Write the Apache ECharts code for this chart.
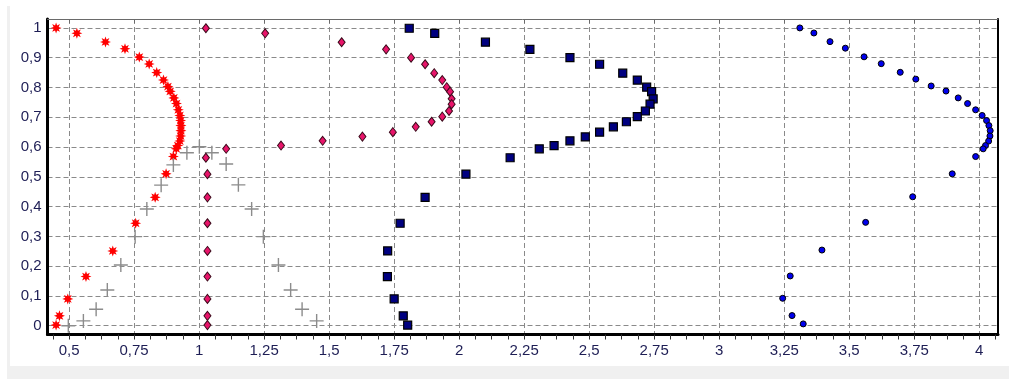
<!DOCTYPE html>
<html>
<head>
<meta charset="utf-8">
<script src="https://cdn.jsdelivr.net/npm/echarts@6/dist/echarts.min.js"></script>
<style>
  html, body { margin: 0; padding: 0; background: #fff; }
  #chart { width: 1009px; height: 379px; }
</style>
</head>
<body>
<div id="chart"></div>
<script>
// tick labels
var xTicks = [0.5, 0.75, 1, 1.25, 1.5, 1.75, 2, 2.25, 2.5, 2.75, 3, 3.25, 3.5, 3.75, 4];
var yTicks = [0, 0.1, 0.2, 0.3, 0.4, 0.5, 0.6, 0.7, 0.8, 0.9, 1];

// red asterisks
var redX = [0.45, 0.53, 0.64, 0.715, 0.77, 0.808, 0.837, 0.863, 0.88, 0.889, 0.903, 0.913, 0.92, 0.926, 0.929,
  0.93, 0.93, 0.929, 0.926, 0.918, 0.912, 0.901, 0.873, 0.831, 0.756, 0.668, 0.565, 0.495, 0.463, 0.45];
var redY = [1.0, 0.982, 0.953, 0.93, 0.902, 0.879, 0.85, 0.825, 0.803, 0.787, 0.765, 0.746, 0.725, 0.706, 0.689,
  0.672, 0.655, 0.637, 0.62, 0.605, 0.594, 0.568, 0.51, 0.431, 0.344, 0.251, 0.165, 0.09, 0.033, 0.002];

// grey crosses
var greyX = [0.497, 0.555, 0.604, 0.647, 0.699, 0.754, 0.799, 0.854, 0.901, 0.953, 1.001,
  1.049, 1.104, 1.151, 1.202, 1.247, 1.305, 1.352, 1.396, 1.452];
var greyY = [0.0, 0.016, 0.055, 0.12, 0.204, 0.299, 0.392, 0.472, 0.54, 0.581, 0.601,
  0.581, 0.543, 0.473, 0.392, 0.299, 0.204, 0.12, 0.055, 0.016];

// pink diamonds
var pinkX = [1.026, 1.254, 1.548, 1.719, 1.815, 1.869, 1.904, 1.935, 1.952, 1.965, 1.971, 1.971, 1.961, 1.935,
  1.894, 1.833, 1.745, 1.628, 1.475, 1.315, 1.104, 1.026, 1.032, 1.032, 1.032, 1.032, 1.032, 1.032, 1.032, 1.032];
var pinkY = [0.999, 0.982, 0.952, 0.928, 0.9, 0.878, 0.848, 0.825, 0.801, 0.786, 0.762, 0.744, 0.721, 0.702,
  0.685, 0.668, 0.65, 0.635, 0.621, 0.605, 0.594, 0.564, 0.509, 0.431, 0.344, 0.251, 0.165, 0.09, 0.033, 0.002];

// navy squares
var navyX = [1.808, 1.906, 2.101, 2.272, 2.426, 2.54, 2.629, 2.685, 2.721, 2.74, 2.746, 2.734, 2.716, 2.685,
  2.643, 2.593, 2.54, 2.485, 2.426, 2.365, 2.308, 2.196, 2.026, 1.869, 1.773, 1.725, 1.724, 1.75, 1.785, 1.802];
var navyY = [0.999, 0.982, 0.952, 0.928, 0.9, 0.878, 0.848, 0.825, 0.801, 0.786, 0.762, 0.744, 0.721, 0.702,
  0.685, 0.668, 0.65, 0.634, 0.621, 0.605, 0.594, 0.564, 0.509, 0.431, 0.344, 0.251, 0.165, 0.09, 0.033, 0.002];

// blue dots
var blueX = [3.31, 3.364, 3.426, 3.485, 3.557, 3.623, 3.696, 3.756, 3.815, 3.872, 3.919, 3.955, 3.986, 4.011,
  4.028, 4.037, 4.042, 4.041, 4.036, 4.024, 4.015, 3.986, 3.896, 3.744, 3.563, 3.395, 3.273, 3.244, 3.28, 3.323];
var blueY = [1.0, 0.983, 0.954, 0.932, 0.903, 0.88, 0.851, 0.828, 0.805, 0.788, 0.765, 0.746, 0.725, 0.706,
  0.689, 0.672, 0.655, 0.637, 0.62, 0.605, 0.594, 0.568, 0.51, 0.433, 0.347, 0.254, 0.167, 0.092, 0.034, 0.006];

function pairs(xs, ys) {
  return xs.map(function (x, i) { return [x, ys[i]]; });
}

function fmt(v) {
  return String(v).replace('.', ',');
}

// minor ticks: 4 per major step, plus one either side
var xMinor = [];
var step = xTicks[1] - xTicks[0];
for (var i = -1; i < xTicks.length; i++) {
  for (var k = 0; k < 4; k++) {
    var v = xTicks[0] + (i + k / 4) * step;
    if (v > 0.42 && v < 4.07) xMinor.push(+v.toFixed(4));
  }
}

var xMin = 0.417, xMax = 4.072, yMin = -0.0296, yMax = 1.030;
var labelFont = { color: '#1e1e55', fontSize: 15, fontFamily: 'Liberation Sans' };
var dash = { show: true, lineStyle: { color: '#8a8a8a', width: 1, type: [5, 3] } };

// 8-point star, fatter arms
var asterisk = 'path://M20,10L14.6,11.9L17.07,17.07L11.9,14.6L10,20L8.1,14.6L2.93,17.07L5.4,11.9L0,10L5.4,8.1L2.93,2.93L8.1,5.4L10,0L11.9,5.4L17.07,2.93L14.6,8.1Z';
var cross = 'path://M6.3,0H7.7V6.3H14V7.7H7.7V14H6.3V7.7H0V6.3H6.3Z';

var chart = echarts.init(document.getElementById('chart'), null, { renderer: 'canvas' });

var option = {
  animation: false,
  backgroundColor: '#fff',
  graphic: [
    { type: 'rect', shape: { x: 10, y: 366, width: 999, height: 13 }, style: { fill: '#f0f0f0' }, silent: true },
    { type: 'rect', shape: { x: 7, y: 6, width: 3, height: 373 }, style: { fill: '#f0f0f0' }, silent: true }
  ],
  grid: { left: 47.5, top: 19, right: 11, bottom: 44.5, containLabel: false },
  xAxis: [
    {
      type: 'value', min: xMin, max: xMax, position: 'bottom',
      axisLine: { show: true, onZero: false, lineStyle: { color: '#000', width: 3 } },
      axisTick: { show: true, length: 5, customValues: xMinor, lineStyle: { color: '#333', width: 1 } },
      axisLabel: { customValues: xTicks, formatter: fmt, margin: 9, ...labelFont },
      splitLine: { show: false }
    },
    {
      type: 'value', min: xMin, max: xMax, position: 'top',
      axisLine: { show: true, onZero: false, lineStyle: { color: '#6a6a6a', width: 1 } },
      axisTick: { show: true, inside: true, length: 4, customValues: xTicks, lineStyle: { color: '#6a6a6a' } },
      axisLabel: { show: false },
      splitLine: dash
    }
  ],
  yAxis: [
    {
      type: 'value', min: yMin, max: yMax, position: 'left',
      axisLine: { show: true, onZero: false, lineStyle: { color: '#000', width: 3 } },
      axisTick: { show: false, customValues: yTicks },
      axisLabel: { customValues: yTicks, formatter: fmt, margin: 6, ...labelFont },
      splitLine: dash
    },
    {
      type: 'value', min: yMin, max: yMax, position: 'right',
      axisLine: { show: true, onZero: false, lineStyle: { color: '#000', width: 2 } },
      axisTick: { show: false },
      axisLabel: { show: false },
      splitLine: { show: false }
    }
  ],
  series: [
    {
      type: 'scatter', data: pairs(redX, redY), symbol: asterisk, symbolSize: 11,
      itemStyle: { color: '#ff0000', opacity: 1 }
    },
    {
      type: 'scatter', data: pairs(greyX, greyY), symbol: cross, symbolSize: 14,
      itemStyle: { color: '#8c8c8c', opacity: 1 }
    },
    {
      type: 'scatter', data: pairs(pinkX, pinkY), symbol: 'diamond', symbolSize: [7, 9],
      itemStyle: { color: '#e8146a', borderColor: '#3a0a1a', borderWidth: 1, opacity: 1 }
    },
    {
      type: 'scatter', data: pairs(navyX, navyY), symbol: 'rect', symbolSize: 8,
      itemStyle: { color: '#000080', borderColor: '#000', borderWidth: 1.2, opacity: 1 }
    },
    {
      type: 'scatter', data: pairs(blueX, blueY), symbol: 'circle', symbolSize: 6,
      itemStyle: { color: '#0000ee', borderColor: '#000', borderWidth: 1, opacity: 1 }
    }
  ]
};

chart.setOption(option);
</script>
</body>
</html>
